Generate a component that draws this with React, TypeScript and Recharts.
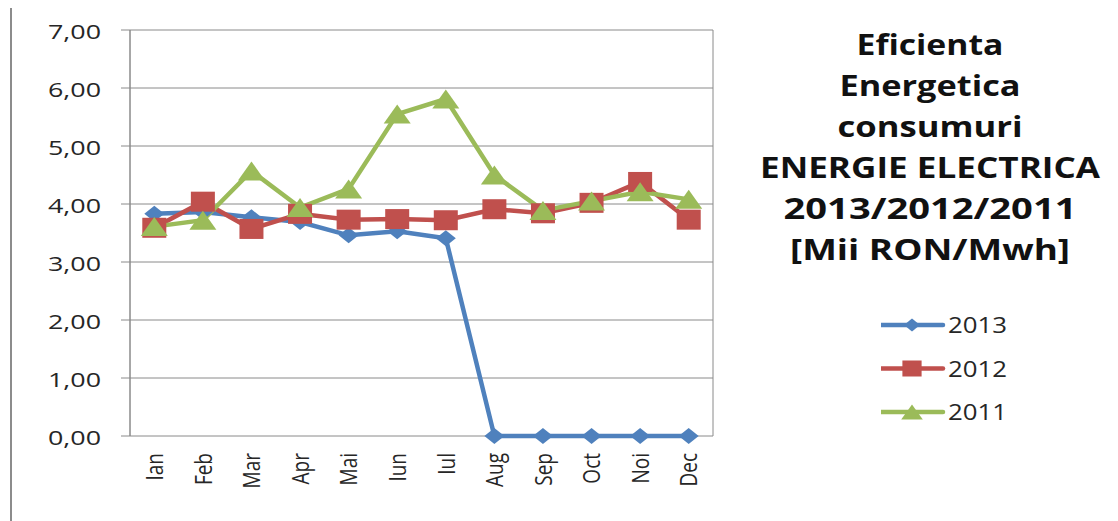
import React from 'react';
import { LineChart, Line, XAxis, YAxis, CartesianGrid, Legend } from 'recharts';

const months = ['Ian', 'Feb', 'Mar', 'Apr', 'Mai', 'Iun', 'Iul', 'Aug', 'Sep', 'Oct', 'Noi', 'Dec'];
const s2013 = [3.83, 3.86, 3.77, 3.69, 3.46, 3.53, 3.41, 0, 0, 0, 0, 0];
const s2012 = [3.59, 4.04, 3.57, 3.83, 3.73, 3.74, 3.72, 3.91, 3.84, 4.02, 4.38, 3.73];
const s2011 = [3.61, 3.72, 4.57, 3.94, 4.26, 5.55, 5.81, 4.5, 3.89, 4.05, 4.21, 4.08];
const yTicks = [0, 1, 2, 3, 4, 5, 6, 7];
const boundaryTicks = [0, 1, 2, 3, 4, 5, 6, 7, 8, 9, 10, 11, 12];
const legendOrder = ['y2013', 'y2012', 'y2011'];
const titleLines = ['Eficienta', 'Energetica', 'consumuri', 'ENERGIE ELECTRICA', '2013/2012/2011', '[Mii RON/Mwh]'];
const titleWidths = [147, 181, 185, 340, 293, 280];

const data = months.map((m, i) => ({
  month: m,
  pos: i + 0.5,
  y2013: s2013[i],
  y2012: s2012[i],
  y2011: s2011[i],
}));

const COLORS: Record<string, string> = { y2013: '#4F81BD', y2012: '#C0504D', y2011: '#9BBB59' };
const GRID = '#8a8a8a';
const FONT = '"Open Sans", sans-serif';

function Marker({ kind, cx, cy, color, small }: any) {
  if (cx == null || cy == null) return null;
  const k = small ? 0.8 : 1;
  if (kind === 'y2013') {
    const hw = 10 * k, hh = 8 * k;
    return <polygon points={`${cx},${cy - hh} ${cx + hw},${cy} ${cx},${cy + hh} ${cx - hw},${cy}`} fill={color} />;
  }
  if (kind === 'y2012') {
    const hw = 12 * k, hh = 10 * k;
    return <rect x={cx - hw} y={cy - hh} width={hw * 2} height={hh * 2} fill={color} />;
  }
  const hw = 13.5 * k, hh = 9.5 * k;
  return <polygon points={`${cx},${cy - hh} ${cx + hw},${cy + hh} ${cx - hw},${cy + hh}`} fill={color} />;
}

const makeDot = (kind: string) => (p: any) => (
  <Marker key={`${kind}-${p.index}`} kind={kind} cx={p.cx} cy={p.cy} color={COLORS[kind]} />
);

const YTick = (props: any) => {
  const { x, y, payload } = props;
  const label = Number(payload.value).toFixed(2).replace('.', ',');
  return (
    <text x={x} y={y} dy={9} textAnchor="end" fontFamily={FONT} fontSize={20} fill="#262626"
      textLength={53} lengthAdjust="spacingAndGlyphs">
      {label}
    </text>
  );
};

const XTick = (props: any) => {
  const { x, y, payload } = props;
  return (
    <g transform={`translate(${x},${y + 17})`}>
      <text transform="scale(1.25,1) rotate(-90)" x={0} y={7} textAnchor="end" fontFamily={FONT}
        fontSize={19} fill="#262626">
        {payload.value}
      </text>
    </g>
  );
};

const LegendContent = (props: any) => {
  const payload = [...(props.payload || [])].sort(
    (a: any, b: any) => legendOrder.indexOf(a.dataKey) - legendOrder.indexOf(b.dataKey)
  );
  return (
    <svg width={200} height={120} style={{ display: 'block' }}>
      {payload.map((entry: any, i: number) => {
        const cy = 15 + i * 43.5;
        const key = entry.dataKey as string;
        const color = COLORS[key];
        return (
          <g key={key}>
            <line x1={0} y1={cy} x2={62} y2={cy} stroke={color} strokeWidth={4.5} strokeLinecap="round" />
            <Marker kind={key} cx={31} cy={cy} color={color} small />
            <text x={67} y={cy + 8} fontFamily={FONT} fontSize={21} fill="#262626" textLength={59}
              lengthAdjust="spacingAndGlyphs">
              {entry.value}
            </text>
          </g>
        );
      })}
    </svg>
  );
};

export default function App() {
  return (
    <div style={{ position: 'relative', marginTop: -5, marginLeft: 2, width: 1105, height: 516, border: '2px solid #8c8c8c', background: '#fff' }}>
      <style>{'html,body{overflow:hidden;}'}</style>
      <LineChart width={1105} height={516} data={data} margin={{ top: 25, right: 404, bottom: 25, left: 0 }}>
        <XAxis xAxisId="grid" type="number" dataKey="pos" domain={[0, 12]} ticks={boundaryTicks}
          height={0} tick={false} tickSize={7} stroke={GRID} allowDataOverflow />
        <XAxis xAxisId="cat" dataKey="month" scale="band" height={60} tickLine={false} axisLine={false}
          tickSize={0} tickMargin={0} interval={0} tick={<XTick />} />
        <YAxis yAxisId="y" domain={[0, 7]} ticks={yTicks} width={118} tickSize={9} tickMargin={20}
          stroke={GRID} tick={<YTick />} interval={0} />
        <CartesianGrid xAxisId="grid" yAxisId="y" stroke={GRID} strokeOpacity={1} />
        <Legend layout="vertical" align="center" verticalAlign="middle" content={<LegendContent />}
          wrapperStyle={{ position: 'absolute', left: 869, top: 305, width: 200, height: 120 }} />
        <Line xAxisId="cat" yAxisId="y" name="2013" dataKey="y2013" stroke={COLORS.y2013} strokeWidth={4.5}
          dot={makeDot('y2013')} activeDot={false} isAnimationActive={false} />
        <Line xAxisId="cat" yAxisId="y" name="2012" dataKey="y2012" stroke={COLORS.y2012} strokeWidth={4.5}
          dot={makeDot('y2012')} activeDot={false} isAnimationActive={false} />
        <Line xAxisId="cat" yAxisId="y" name="2011" dataKey="y2011" stroke={COLORS.y2011} strokeWidth={4.5}
          dot={makeDot('y2011')} activeDot={false} isAnimationActive={false} />
      </LineChart>
      <svg width={1105} height={516} style={{ position: 'absolute', left: 0, top: 0, pointerEvents: 'none' }}>
        {titleLines.map((t, i) => (
          <text key={t} x={918} y={50 + i * 41} textAnchor="middle" fontFamily={FONT} fontWeight={700}
            fontSize={28} fill="#111" textLength={titleWidths[i]} lengthAdjust="spacingAndGlyphs">
            {t}
          </text>
        ))}
      </svg>
    </div>
  );
}
